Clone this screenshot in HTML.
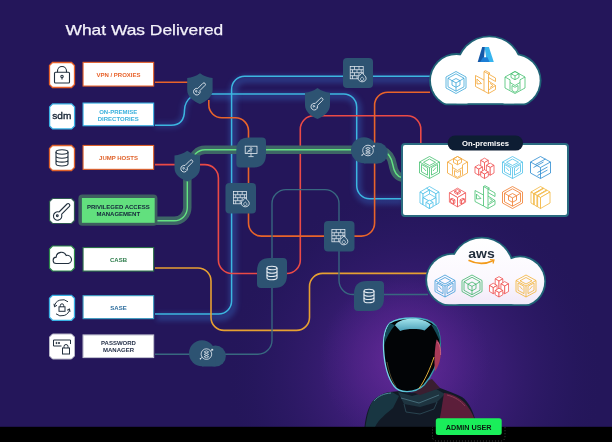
<!DOCTYPE html>
<html><head><meta charset="utf-8">
<style>
html,body{margin:0;padding:0;width:612px;height:442px;overflow:hidden;background:#24165a;}
svg{display:block;position:absolute;left:0;top:0;}
text{font-family:"Liberation Sans",sans-serif;}
svg{will-change:transform;}
</style></head><body>
<svg width="612" height="442" viewBox="0 0 612 442">
<defs>
  <radialGradient id="glow" cx="415" cy="375" r="190" gradientUnits="userSpaceOnUse">
    <stop offset="0" stop-color="#4e238a" stop-opacity="1"/>
    <stop offset="0.45" stop-color="#3d1e78" stop-opacity="0.8"/>
    <stop offset="0.8" stop-color="#2c1966" stop-opacity="0.4"/>
    <stop offset="1" stop-color="#24165a" stop-opacity="0"/>
  </radialGradient>
  <radialGradient id="glow2" cx="405" cy="360" r="85" gradientUnits="userSpaceOnUse">
    <stop offset="0" stop-color="#6a2c9c" stop-opacity="0.9"/>
    <stop offset="0.6" stop-color="#5a2690" stop-opacity="0.45"/>
    <stop offset="1" stop-color="#4e238a" stop-opacity="0"/>
  </radialGradient>
  <linearGradient id="bodyg" x1="364" y1="0" x2="477" y2="0" gradientUnits="userSpaceOnUse">
    <stop offset="0" stop-color="#14303c"/>
    <stop offset="0.45" stop-color="#1a2c3a"/>
    <stop offset="0.7" stop-color="#4a1e36"/>
    <stop offset="1" stop-color="#6e2444"/>
  </linearGradient>
  <linearGradient id="rimg" x1="383" y1="0" x2="441" y2="0" gradientUnits="userSpaceOnUse">
    <stop offset="0" stop-color="#7adcec"/>
    <stop offset="0.6" stop-color="#4ab8cc"/>
    <stop offset="1" stop-color="#2a8494"/>
  </linearGradient>
  <linearGradient id="capg" x1="0" y1="318" x2="0" y2="331" gradientUnits="userSpaceOnUse">
    <stop offset="0" stop-color="#a8e8f0"/>
    <stop offset="1" stop-color="#4aa0b8"/>
  </linearGradient>
  <filter id="bglow" x="-30%" y="-30%" width="160%" height="160%">
    <feGaussianBlur stdDeviation="2.5"/>
  </filter>
  <filter id="soft" x="-30%" y="-30%" width="160%" height="160%">
    <feGaussianBlur stdDeviation="0.6"/>
  </filter>
  <path id="octa" d="M3,0 H22 L25,3 V22 L22,25 H3 L0,22 V3 Z"/>
  <linearGradient id="cloudfill" x1="0" y1="238" x2="0" y2="306" gradientUnits="userSpaceOnUse">
    <stop offset="0" stop-color="#ffffff"/>
    <stop offset="0.6" stop-color="#fbf8fe"/>
    <stop offset="1" stop-color="#f1e8f8"/>
  </linearGradient>
  <!-- iso icons 22x24 -->
  <g id="isoA" fill="none" stroke-width="0.8">
    <path d="M11,1 L21,6.5 V17.5 L11,23 L1,17.5 V6.5 Z"/>
    <path d="M11,3.3 L19,7.7 V16.3 L11,20.7 L3,16.3 V7.7 Z"/>
    <path d="M11,8 L15,10.2 V14.6 L11,16.8 L7,14.6 V10.2 Z M7,10.2 L11,12.4 L15,10.2 M11,12.4 V16.8"/>
    <path d="M3,7.7 L7,10.2 M19,7.7 L15,10.2 M11,20.7 V16.8"/>
  </g>
  <g id="isoE" fill="none" stroke-width="0.8">
    <path d="M11,1 L21,6.5 V17.5 L11,23 L1,17.5 V6.5 Z"/>
    <path d="M1,6.5 L11,12 L21,6.5 M11,12 V23"/>
    <path d="M11,3.5 L17,6.8 L11,10 L5,6.8 Z"/>
    <path d="M3,9 V16.3 L9,19.6 V12.3 Z M19,9 V16.3 L13,19.6 V12.3 Z"/>
    <path d="M4.5,12 L7.5,15.5 M17.5,12 L14.5,15.5"/>
  </g>
  <g id="isoB" fill="none" stroke-width="0.8" stroke-linejoin="round">
    <path d="M10,1 L14.5,3.5 V23 L10,20.5 Z M10,1 L11.5,0.2 L16,2.7 L14.5,3.5"/>
    <path d="M14.5,3.5 L21.5,7.5 V11 L14.5,7"/>
    <path d="M14.5,10.5 L21.5,15 L14.5,19.5 M16,12.8 L19,15 L16,17"/>
    <path d="M10,9.5 L1.5,5 V16 L10,20.5 M3,8.5 L7.5,13 L3,13.5 Z"/>
    <path d="M14.5,23 L21.5,19 V15"/>
  </g>
  <g id="isoC" fill="none" stroke-width="0.8">
    <path d="M11,1 L21,6.5 V17.5 L11,23 L1,17.5 V6.5 Z"/>
    <path d="M11,1 L15,3.2 V7 L11,9.2 L7,7 V3.2 Z M7,3.2 L11,5.4 L15,3.2 M11,5.4 V9.2"/>
    <path d="M1,6.5 L6,9.3 V19.3 M21,6.5 L16,9.3 V19.3 M6,12 L11,15 L16,12"/>
    <path d="M8,15 L11,16.8 L14,15 V20 L11,21.8 L8,20 Z"/>
  </g>
  <g id="isoD" fill="#fff" stroke-width="0.75" stroke-linejoin="round"><polygon points="11.00,2.65 14.81,4.85 11.00,7.05 7.19,4.85"/><polygon points="7.19,4.85 11.00,7.05 11.00,18.60 7.19,16.40"/><polygon points="14.81,4.85 11.00,7.05 11.00,18.60 14.81,16.40"/><polygon points="5.28,9.25 9.09,11.45 5.28,13.65 1.47,11.45"/><polygon points="1.47,11.45 5.28,13.65 5.28,19.70 1.47,17.50"/><polygon points="9.09,11.45 5.28,13.65 5.28,19.70 9.09,17.50"/><polygon points="16.72,7.60 20.53,9.80 16.72,12.00 12.91,9.80"/><polygon points="12.91,9.80 16.72,12.00 16.72,19.70 12.91,17.50"/><polygon points="20.53,9.80 16.72,12.00 16.72,19.70 20.53,17.50"/><polygon points="11.00,14.20 14.81,16.40 11.00,18.60 7.19,16.40"/><polygon points="7.19,16.40 11.00,18.60 11.00,23.00 7.19,20.80"/><polygon points="14.81,16.40 11.00,18.60 11.00,23.00 14.81,20.80"/></g>
  <g id="isoF" fill="none" stroke-width="0.8">
    <path d="M11,1 L21,6.5 V17.5 L11,23 L1,17.5 V6.5 Z"/>
    <path d="M1,6.5 L11,12 L21,6.5 M11,12 V23"/>
    <path d="M6,9 L16,3.5 M4,12 L14,6.5 M8,17 L18,11.5 M8,20 L18,14.5"/>
  </g>
  <g id="isoG" fill="#fff" stroke-width="0.75" stroke-linejoin="round"><polygon points="11.00,1.00 20.53,6.50 17.43,8.29 7.90,2.79"/><polygon points="7.90,2.79 17.43,8.29 17.43,19.29 7.90,13.79"/><polygon points="20.53,6.50 17.43,8.29 17.43,19.29 20.53,17.50"/><polygon points="7.90,2.79 11.00,4.57 4.57,8.29 1.47,6.50"/><polygon points="1.47,6.50 4.57,8.29 4.57,19.29 1.47,17.50"/><polygon points="11.00,4.57 4.57,8.29 4.57,19.29 11.00,15.57"/><polygon points="11.00,8.43 17.43,12.14 11.00,15.85 4.57,12.14"/><polygon points="4.57,12.14 11.00,15.85 11.00,23.00 4.57,19.29"/><polygon points="17.43,12.14 11.00,15.85 11.00,23.00 17.43,19.29"/><polygon points="11.00,14.75 14.57,16.81 11.00,18.88 7.43,16.81"/><polygon points="7.43,16.81 11.00,18.88 11.00,23.00 7.43,20.94"/><polygon points="14.57,16.81 11.00,18.88 11.00,23.00 14.57,20.94"/></g>
  <g id="isoH" fill="#fff" stroke-width="0.75" stroke-linejoin="round"><polygon points="11.00,2.65 19.10,7.33 11.00,12.00 2.90,7.33"/><polygon points="2.90,7.33 11.00,12.00 11.00,21.35 2.90,16.68"/><polygon points="19.10,7.33 11.00,12.00 11.00,21.35 19.10,16.68"/><polygon points="11.00,4.03 13.86,5.68 11.00,7.32 8.14,5.68"/><polygon points="8.14,5.68 11.00,7.32 11.00,8.97 8.14,7.33"/><polygon points="13.86,5.68 11.00,7.32 11.00,8.97 13.86,7.33"/><polygon points="5.52,12.69 8.38,14.34 6.95,15.16 4.09,13.51"/><polygon points="4.09,13.51 6.95,15.16 6.95,18.46 4.09,16.81"/><polygon points="8.38,14.34 6.95,15.16 6.95,18.46 8.38,17.64"/><polygon points="16.48,12.69 17.91,13.51 15.05,15.16 13.62,14.34"/><polygon points="13.62,14.34 15.05,15.16 15.05,18.46 13.62,17.64"/><polygon points="17.91,13.51 15.05,15.16 15.05,18.46 17.91,16.81"/></g>
  <g id="isoJ" fill="#fff" stroke-width="0.75" stroke-linejoin="round"><polygon points="11.00,1.00 13.86,2.65 4.33,8.15 1.47,6.50"/><polygon points="1.47,6.50 4.33,8.15 4.33,19.15 1.47,17.50"/><polygon points="13.86,2.65 4.33,8.15 4.33,19.15 13.86,13.65"/><polygon points="14.33,2.93 17.19,4.57 7.67,10.07 4.81,8.43"/><polygon points="4.81,8.43 7.67,10.07 7.67,21.07 4.81,19.43"/><polygon points="17.19,4.57 7.67,10.07 7.67,21.07 17.19,15.57"/><polygon points="17.67,4.85 20.53,6.50 11.00,12.00 8.14,10.35"/><polygon points="8.14,10.35 11.00,12.00 11.00,23.00 8.14,21.35"/><polygon points="20.53,6.50 11.00,12.00 11.00,23.00 20.53,17.50"/></g>
  <!-- node icons (white) -->
  <g id="nKey" fill="none" stroke="#e8eef4" stroke-width="0.95" transform="translate(-0.8,-1.8) scale(0.92)">
    <path d="M-1.6,1.4 L4,-4.2 a1.6,1.6 0 0 1 2.3,2.3 L0.8,3.6"/>
    <path d="M-1.6,1.4 a3.6,3.6 0 1 0 2.4,2.2"/>
    <path d="M-3.2,3.6 a0.8,0.8 0 1 0 0.1,0 M-1,5.4 L-0.2,6.2"/>
  </g>
  <g id="nWall" fill="none" stroke="#e8eef4" stroke-width="0.75">
    <rect x="-6.8" y="-7" width="13" height="12.2"/>
    <path d="M-6.8,-3.9 H6.2 M-6.8,-0.9 H6.2 M-6.8,2.1 H2 M-2.5,-7 V-3.9 M2,-7 V-3.9 M-4.5,-3.9 V-0.9 M0,-3.9 V-0.9 M4.2,-3.9 V-0.9 M-2.5,-0.9 V2.1 M2,-0.9 V2.1 M-4.5,2.1 V5.2 M0,2.1 V5.2"/>
    <path d="M5.1,8.2 C2.8,8.2 1.1,6.6 1.1,4.5 C1.1,2.3 3.8,1.3 5.4,-0.8 C6.6,1.6 9.1,2.5 9.1,4.8 C9.1,6.8 7.4,8.2 5.1,8.2 Z" fill="#2d5372" stroke-width="0.85"/>
    <path d="M5.1,7 c-1,0 -1.6,-0.7 -1.6,-1.5 c0,-0.9 0.8,-1.5 1.6,-2.2 c0.8,0.7 1.6,1.3 1.6,2.2 c0,0.8 -0.6,1.5 -1.6,1.5 z" stroke-width="0.7"/>
  </g>
  <g id="nMon" fill="none" stroke="#e8eef4" stroke-width="0.8">
    <rect x="-5.8" y="-5.8" width="11.8" height="7.3"/>
    <path d="M0,1.5 V4 M-2.6,4.6 H2.6"/>
    <circle cx="0" cy="-3.2" r="1.1"/>
    <path d="M0,-2.1 V0.5 M-4.5,0.8 L-1.5,-1.5 M-1.5,-1.5 l-1.2,0.1 M-1.5,-1.5 l-0.1,1.1"/>
  </g>
  <g id="nDb" fill="none" stroke="#e8eef4" stroke-width="1.1">
    <ellipse cx="0" cy="-5" rx="5" ry="1.8"/>
    <path d="M-5,-5 V5 a5,1.8 0 0 0 10,0 V-5"/>
    <path d="M-5,-1.6 a5,1.8 0 0 0 10,0 M-5,1.7 a5,1.8 0 0 0 10,0"/>
  </g>
  <g id="nGlobe" fill="none" stroke="#e8eef4" stroke-width="0.8">
    <circle cx="0" cy="0" r="5.3"/>
    <path d="M-2.3,-2.2 L0,-3.3 L2.3,-2.2 L0,-1.1 Z M-2.3,0.3 L0,-0.8 L2.3,0.3 L0,1.4 Z M-2.3,2.6 L0,1.5 L2.3,2.6 L0,3.7 Z" stroke-width="0.7"/>
    <path d="M-6.2,4.8 L-4,3 M4,-3 L6.4,-4.8 M6.4,-4.8 l-1.6,0.1 M6.4,-4.8 l-0.2,1.5"/>
    <circle cx="-6" cy="4.6" r="0.7" fill="#e8eef4" stroke="none"/>
  </g>
</defs>
<rect x="0" y="0" width="612" height="442" fill="#24165a"/>
<rect x="0" y="0" width="612" height="442" fill="url(#glow)"/>
<rect x="0" y="0" width="612" height="442" fill="url(#glow2)"/>

<!-- title -->
<text x="65.5" y="34.7" font-size="14.4" fill="#f4f2fa" stroke="#f4f2fa" stroke-width="0.25" textLength="157.8" lengthAdjust="spacingAndGlyphs">What Was Delivered</text>

<!-- ===== LINES ===== -->
<g fill="none" stroke-linecap="butt" stroke-linejoin="round">
  <path d="M155,314 L218.60,314.00 A13.00,13.00 0 0 0 231.60,301.00 L231.60,89.20 A13.00,13.00 0 0 1 244.60,76.20 L430,76.2" stroke="#3470c8" stroke-width="8" opacity="0.36" filter="url(#bglow)" transform="translate(1.5,3)"/>
  <path d="M210,94 L343.70,94.00 A13.00,13.00 0 0 1 356.70,107.00 L356.70,185.80 A13.00,13.00 0 0 0 369.70,198.80 L402,198.8" stroke="#3470c8" stroke-width="8" opacity="0.35" filter="url(#bglow)" transform="translate(1,2)"/>
  <path d="M155,314 L218.60,314.00 A13.00,13.00 0 0 0 231.60,301.00 L231.60,89.20 A13.00,13.00 0 0 1 244.60,76.20 L430,76.2" stroke="#3cb6e0" stroke-width="1.5"/>
  <path d="M155,125.2 H171 C180,125.2 184.5,120 184.5,110 C184.5,104 187,100 192,96" stroke="#3470c8" stroke-width="6" opacity="0.3" filter="url(#bglow)"/>
  <path d="M155,125.2 H171 C180,125.2 184.5,120 184.5,110 C184.5,104 187,100 192,96" stroke="#3cb6e0" stroke-width="1.5"/>
  <path d="M210,94 L343.70,94.00 A13.00,13.00 0 0 1 356.70,107.00 L356.70,185.80 A13.00,13.00 0 0 0 369.70,198.80 L402,198.8" stroke="#3cb6e0" stroke-width="1.5"/>
  <path d="M155,82.3 H190" stroke="#e8642a" stroke-width="1.6"/>
  <path d="M155,164.6 L204.90,164.60 A13.50,13.50 0 0 1 218.40,178.10 L218.40,260.00 A13.50,13.50 0 0 0 231.90,273.50 L286.80,273.50 A13.50,13.50 0 0 0 300.30,260.00 L300.30,129.30 A13.50,13.50 0 0 1 313.80,115.80 L407.30,115.80 A13.50,13.50 0 0 1 420.80,129.30 L420.8,145" stroke="#ea4a46" stroke-width="1.6"/>
  <path d="M208.8,100 L208.80,104.80 A13.00,13.00 0 0 0 221.80,117.80 L235.50,117.80 A13.00,13.00 0 0 1 248.50,130.80 L248.50,223.10 A13.00,13.00 0 0 0 261.50,236.10 L361.60,236.10 A13.00,13.00 0 0 0 374.60,223.10 L374.60,105.20 A13.00,13.00 0 0 1 387.60,92.20 L430,92.2" stroke="#e8642a" stroke-width="1.6"/>
  <path d="M155,220.8 L174.30,220.80 A13.00,13.00 0 0 0 187.30,207.80 L187.3,175 M192,170 L192.00,162.80 A13.00,13.00 0 0 1 205.00,149.80 L352,149.8 M382,150 C389,153 391.5,158 392.6,164 C393.8,171 396.5,177 402.5,177.8" stroke="#3d6666" stroke-width="8.4"/>
  <path d="M155,220.8 L174.30,220.80 A13.00,13.00 0 0 0 187.30,207.80 L187.3,175 M192,170 L192.00,162.80 A13.00,13.00 0 0 1 205.00,149.80 L352,149.8 M382,150 C389,153 391.5,158 392.6,164 C393.8,171 396.5,177 402.5,177.8" stroke="#64e282" stroke-width="1.4"/>
  <path d="M155,268 L198.00,268.00 A13.00,13.00 0 0 1 211.00,281.00 L211.00,317.40 A13.00,13.00 0 0 0 224.00,330.40 L296.50,330.40 A13.00,13.00 0 0 0 309.50,317.40 L309.50,286.40 A13.00,13.00 0 0 1 322.50,273.40 L428,273.4" stroke="#e6a032" stroke-width="1.6"/>
  <path d="M155,354.2 L258.00,354.20 A14.00,14.00 0 0 0 272.00,340.20 L272.00,203.60 A14.00,14.00 0 0 1 286.00,189.60 L325.00,189.60 A14.00,14.00 0 0 1 339.00,203.60 L339.00,280.50 A14.00,14.00 0 0 0 353.00,294.50 L428,294.5" stroke="#386880" stroke-width="1.35"/>
</g>

<!-- ===== LEFT COLUMN ===== -->
<g>
  <!-- VPN -->
  <g transform="translate(49.5,62.5)"><use href="#octa" fill="#fff" stroke="#e8622a" stroke-width="1.3"/>
    <g fill="none" stroke="#22303e" stroke-width="1.1"><path d="M8,9.7 V8.5 a4.5,4.5 0 0 1 9,0 V9.7"/><rect x="5" y="9.7" width="15" height="10.8" rx="1"/><circle cx="12.5" cy="14" r="1.2"/><path d="M12.5,15 V17"/></g></g>
  <rect x="83.05" y="62.35" width="70.60" height="23.70" fill="#fff" stroke="#e8622a" stroke-width="1.1"/>
  <text x="118.5" y="77" font-size="6" font-weight="bold" fill="#e8622a" text-anchor="middle">VPN / PROXIES</text>
  <!-- SDM -->
  <g transform="translate(49.6,103.9)"><use href="#octa" fill="#fff" stroke="#3ab2e4" stroke-width="1.3"/>
    <text x="12.2" y="14.8" font-size="9.6" fill="#162434" stroke="#162434" stroke-width="0.35" text-anchor="middle" textLength="19" lengthAdjust="spacingAndGlyphs">sdm</text></g>
  <rect x="83.05" y="103.05" width="70.60" height="22.70" fill="#fff" stroke="#3ab2e4" stroke-width="1.1"/>
  <text x="118.2" y="113.7" font-size="6" font-weight="bold" fill="#38b0dc" text-anchor="middle">ON-PREMISE</text>
  <text x="118.2" y="120.9" font-size="6" font-weight="bold" fill="#38b0dc" text-anchor="middle">DIRECTORIES</text>
  <!-- JUMP -->
  <g transform="translate(49.5,145.5)"><use href="#octa" fill="#fff" stroke="#e0622a" stroke-width="1.3"/>
    <g fill="none" stroke="#22303e" stroke-width="1.1"><ellipse cx="12.5" cy="6.5" rx="6" ry="2.2"/><path d="M6.5,6.5 V18.3 a6,2.2 0 0 0 12,0 V6.5 M6.5,10.5 a6,2.2 0 0 0 12,0 M6.5,14.4 a6,2.2 0 0 0 12,0"/></g></g>
  <rect x="83.05" y="145.45" width="70.60" height="23.90" fill="#fff" stroke="#e0622a" stroke-width="1.1"/>
  <text x="118.5" y="160" font-size="6" font-weight="bold" fill="#e0622a" text-anchor="middle">JUMP HOSTS</text>
  <!-- PAM -->
  <g transform="translate(49.5,198.5)"><use href="#octa" fill="#fff" stroke="#2f5a50" stroke-width="1.2"/>
    <g fill="none" stroke="#22303e" stroke-width="1.1"><path d="M9.5,13.5 L17.5,5.5 a1.7,1.7 0 0 1 2.4,2.4 L12,15.8"/><path d="M9.5,13.5 a4.2,4.2 0 1 0 2.5,2.3"/><circle cx="7.8" cy="17.3" r="0.9"/></g></g>
  <rect x="78.4" y="194.5" width="79" height="31.3" rx="4" fill="#3d5f5f"/>
  <rect x="81.9" y="198" width="72.8" height="24.8" fill="#62e07e"/>
  <text x="118.3" y="208.9" font-size="6" font-weight="bold" fill="#13243a" text-anchor="middle">PRIVILEGED ACCESS</text>
  <text x="118.3" y="216" font-size="6" font-weight="bold" fill="#13243a" text-anchor="middle">MANAGEMENT</text>
  <!-- CASB -->
  <g transform="translate(49.5,246)"><use href="#octa" fill="#fff" stroke="#2c8a4a" stroke-width="1.2"/>
    <path d="M7,17.5 a3.2,3.2 0 0 1 -0.3,-6.4 a5.2,5.2 0 0 1 10,-1.6 a4,4 0 0 1 2.2,8 Z" fill="none" stroke="#22303e" stroke-width="1.1"/></g>
  <rect x="83.05" y="247.55" width="70.60" height="23.50" fill="#fff" stroke="#2a7048" stroke-width="1.1"/>
  <text x="118.5" y="262" font-size="6" font-weight="bold" fill="#2a7a48" text-anchor="middle">CASB</text>
  <!-- SASE -->
  <g transform="translate(49.5,295.3)"><use href="#octa" fill="#fff" stroke="#3ab2e4" stroke-width="1.3"/>
    <g fill="none" stroke="#22303e" stroke-width="1"><path d="M5,11 a8,7.5 0 0 1 13.5,-4.5 M20,14 a8,7.5 0 0 1 -13.5,4.5"/><path d="M4.5,8.5 L5,11.5 L7.5,10 M20.5,16.5 L20,13.5 L17.5,15"/><rect x="9.5" y="11.5" width="6" height="4.5"/><path d="M10.8,11.5 V10.2 a1.7,1.7 0 0 1 3.4,0 V11.5"/></g></g>
  <rect x="83.05" y="295.65" width="70.60" height="23.00" fill="#fff" stroke="#3a9cc0" stroke-width="1.1"/>
  <text x="118.5" y="310" font-size="6" font-weight="bold" fill="#2c6c9c" text-anchor="middle">SASE</text>
  <!-- PASSWORD -->
  <g transform="translate(49.5,334)"><use href="#octa" fill="#fff" stroke="#b8b8c8" stroke-width="1"/>
    <g fill="none" stroke="#22303e" stroke-width="1"><path d="M12,12 H4 V6 H21 V10"/><circle cx="7" cy="9" r="0.6" fill="#22303e"/><circle cx="9.5" cy="9" r="0.6" fill="#22303e"/><rect x="13" y="14" width="7" height="6"/><path d="M14.5,14 V12.5 a2,2 0 0 1 4,0 V14"/></g></g>
  <rect x="83.05" y="334.95" width="70.60" height="22.60" fill="#fff" stroke="#c0c0d0" stroke-width="1.1"/>
  <text x="118.5" y="345" font-size="6" font-weight="bold" fill="#1e2a44" text-anchor="middle">PASSWORD</text>
  <text x="118.5" y="352.2" font-size="6" font-weight="bold" fill="#1e2a44" text-anchor="middle">MANAGER</text>
</g>

<!-- ===== NODES ===== -->
<g fill="#2d5372">
  <path d="M200,73.2 Q206,77.5 212.6,78 V90 C212.6,97 206,101.5 200,104 C194,101.5 187.2,97 187.2,90 V78 Q194,77.5 200,73.2 Z"/>
  <path d="M317.5,88 Q323.5,92.3 330,92.8 V105 C330,112 323.5,116.5 317.5,119 C311.5,116.5 305,112 305,105 V92.8 Q311.5,92.3 317.5,88 Z"/>
  <path d="M187.3,150.8 Q193.5,155.1 200,155.6 V168 C200,175 193.5,179 187.3,181.5 C181,179 174.5,175 174.5,168 V155.6 Q181,155.1 187.3,150.8 Z"/>
  <rect x="343" y="58" width="30" height="30" rx="4"/>
  <rect x="225.5" y="183" width="30.5" height="30.5" rx="4"/>
  <rect x="324" y="221" width="30.5" height="30.5" rx="4"/>
  <path d="M249.3,137.5 H262 Q266,137.5 266,141.5 V154.5 Q266,167.5 253,167.5 H240 Q236.3,167.5 236.3,163.5 V150.5 Q236.3,137.5 249.3,137.5 Z"/>
  <path d="M270,258 H283 Q287,258 287,262 V275 Q287,288 274,288 H261 Q257,288 257,284 V271 Q257,258 270,258 Z"/>
  <path d="M367,281 H380 Q384,281 384,285 V298 Q384,311 371,311 H358 Q354,311 354,307 V294 Q354,281 367,281 Z"/>
  <circle cx="364" cy="150.3" r="13"/><circle cx="377.4" cy="153" r="10.5"/><rect x="364" y="150.3" width="13.4" height="13.2"/>
  <circle cx="202" cy="353.3" r="13"/><circle cx="215.4" cy="356" r="10.5"/><rect x="202" y="353.3" width="13.4" height="13.2"/>
</g>
<g>
  <use href="#nKey" transform="translate(200,89)"/>
  <use href="#nKey" transform="translate(317.5,104)"/>
  <use href="#nKey" transform="translate(187.3,166)"/>
  <use href="#nWall" transform="translate(357,73.6)"/>
  <use href="#nWall" transform="translate(240.2,198.6)"/>
  <use href="#nWall" transform="translate(338.7,236.6)"/>
  <use href="#nMon" transform="translate(251,152)"/>
  <use href="#nDb" transform="translate(272,273)"/>
  <use href="#nDb" transform="translate(369,296)"/>
  <use href="#nGlobe" transform="translate(368,150.5)"/>
  <use href="#nGlobe" transform="translate(206.4,354.1)"/>
</g>

<!-- ===== CLOUDS ===== -->
<clipPath id="czo"><rect x="0" y="0" width="612" height="105.2"/></clipPath>
<clipPath id="czi"><rect x="0" y="0" width="612" height="103.4"/></clipPath>
<g clip-path="url(#czo)" fill="#1f6276"><circle cx="456.5" cy="80.5" r="27.4"/><circle cx="514.3" cy="80.5" r="27.2"/><circle cx="489.3" cy="69" r="33.6"/><rect x="456.5" y="80.5" width="57.799999999999955" height="24.700000000000003"/></g>
<g clip-path="url(#czi)" fill="#fff"><circle cx="456.5" cy="80.5" r="25.599999999999998"/><circle cx="514.3" cy="80.5" r="25.4"/><circle cx="489.3" cy="69" r="31.8"/><rect x="456.5" y="80.5" width="57.799999999999955" height="22.900000000000006"/></g>
<clipPath id="cwo"><rect x="0" y="0" width="612" height="306"/></clipPath>
<clipPath id="cwi"><rect x="0" y="0" width="612" height="304.2"/></clipPath>
<g clip-path="url(#cwo)" fill="#1f6276"><circle cx="452.3" cy="280" r="27"/><circle cx="520.1" cy="281.5" r="26"/><circle cx="481.8" cy="269.3" r="32.6"/><rect x="452.3" y="280" width="67.80000000000001" height="26"/></g>
<g clip-path="url(#cwi)" fill="url(#cloudfill)"><circle cx="452.3" cy="280" r="25.2"/><circle cx="520.1" cy="281.5" r="24.2"/><circle cx="481.8" cy="269.3" r="30.8"/><rect x="452.3" y="280" width="67.80000000000001" height="24.19999999999999"/></g>
<!-- azure logo -->
<g>
  <path d="M482.2,46.9 L485,46.9 L483.6,61.9 L477.7,61.9 Z" fill="#1458a8"/>
  <path d="M484.6,46.9 L488.9,46.9 L493.8,61.9 L486.8,61.9 Z" fill="#36b4ee"/>
  <path d="M483,57.2 L487.4,57.2 L489.6,61.9 L480.2,61.9 Z" fill="#1c7ed6"/>
</g>
<g stroke="#3aa6d8"><use href="#isoA" transform="translate(445,70.5)"/></g>
<g stroke="#f2a533"><use href="#isoB" transform="translate(474,70.5)"/></g>
<g stroke="#45c070"><use href="#isoC" transform="translate(504,70.5)"/></g>
<!-- aws -->
<text x="481.5" y="258" font-size="13.5" font-weight="bold" fill="#232f3e" text-anchor="middle" textLength="26.5" lengthAdjust="spacingAndGlyphs">aws</text>
<path d="M468.5,260.2 Q481,266.5 493.5,260.5" fill="none" stroke="#f29a1a" stroke-width="1.6"/>
<path d="M490,259.5 L494,260 L493,263.5" fill="none" stroke="#f29a1a" stroke-width="1.2"/>
<g stroke="#3a9ad8"><use href="#isoE" transform="translate(434,274)"/></g>
<g stroke="#3fb56a"><use href="#isoA" transform="translate(461,274)"/></g>
<g stroke="#ef4a4a"><use href="#isoD" transform="translate(488,274)"/></g>
<g stroke="#f2b233"><use href="#isoE" transform="translate(515,274)"/></g>

<!-- on-prem box -->
<rect x="402" y="144" width="166" height="72" rx="3" fill="#fff" stroke="#2a6b80" stroke-width="2"/>
<rect x="447.6" y="135.6" width="75.5" height="15" rx="7.5" fill="#0d1d33"/>
<text x="485.5" y="146.2" font-size="7.6" font-weight="bold" fill="#fff" text-anchor="middle" textLength="47" lengthAdjust="spacingAndGlyphs">On-premises</text>
<g stroke="#45c070"><use href="#isoE" transform="translate(418.5,155.5)"/></g>
<g stroke="#f2a533"><use href="#isoC" transform="translate(446.5,155.5)"/></g>
<g stroke="#ef4a4a"><use href="#isoD" transform="translate(473.5,155.5)"/></g>
<g stroke="#4cc0e8"><use href="#isoE" transform="translate(501.5,155.5)"/></g>
<g stroke="#2a8ad0"><use href="#isoF" transform="translate(529.5,155.5)"/></g>
<g stroke="#4cc0e8"><use href="#isoG" transform="translate(418.5,185.5)"/></g>
<g stroke="#ef4a4a"><use href="#isoH" transform="translate(446.5,185.5)"/></g>
<g stroke="#45c070"><use href="#isoB" transform="translate(473.5,185.5)"/></g>
<g stroke="#f07a2a"><use href="#isoA" transform="translate(501.5,185.5)"/></g>
<g stroke="#f2b233"><use href="#isoJ" transform="translate(529.5,185.5)"/></g>

<!-- ===== ASTRONAUT ===== -->
<g>
  <path d="M364.5,427 C366,414 369,405 374,400 C378,396 383,393 390,392 L400,391 C410,394 425,392 440,388 C448,391 456,394 462,397 C469,402 474,412 477,427 Z" fill="#121a26"/>
  <path d="M372,402 C377,396 384,393 392,392 L399,396 L393,408 C387,413 379,419 375,427 H365.5 C367,416 369,408 372,402 Z" fill="#183642"/>
  <path d="M374,401 C378,396 384,393.5 391,393" fill="none" stroke="#4a8a9a" stroke-width="1"/>
  <path d="M398,392 L412,396 L436,389 L445,394 L437,402 L420,407 L404,404 Z" fill="#1e3440"/>
  <path d="M401,398 L419,403 L439,395" fill="none" stroke="#4f7a88" stroke-width="0.8"/>
  <path d="M404,404 L406,412 L420,414 L434,409 L437,402" fill="none" stroke="#2f4e5a" stroke-width="0.8"/>
  <path d="M444,393 C453,394 460,398 465,403 C471,410 475,418 476.5,427 H438 L441,412 Z" fill="#5c1e3a"/>
  <path d="M447,395 C455,397 461,401 465,406" fill="none" stroke="#8a3a56" stroke-width="1"/>
  <path d="M405,389 L432,379 L440,388 L420,395 Z" fill="#3a1e30"/>
  <!-- helmet -->
  <path d="M412.8,318 C424,318 432,321 436,326 C440,332 441,341 440,350 C438.5,362 432,376 424,385 C420,389 414,391.6 407,391.6 C401,391.6 397,390 394,386 C388,378 384.5,365 383.6,350 C383,338 385,328 390,323 C395,319.5 404,318 412.8,318 Z" fill="#020406" stroke="url(#rimg)" stroke-width="1.3"/>
  <path d="M394.9,325.2 C398,321 405,318.6 412.8,318.6 C420,318.6 427,321 431,324.6 L424.6,330.5 C418,328.5 407,328.5 400.2,331 Z" fill="url(#capg)"/>
  <path d="M390,323 C386,328 384.3,336 384.2,345 C386,338 390,331 394.9,325.2 Z" fill="#134a58"/>
  <path d="M431,324.6 L436,326 C439,331 440.3,337 440.2,343 C438,336 434,329 431,324.6 Z" fill="#134a58"/>
  <path d="M436.5,339.5 C439.2,341.5 440.8,346 440.8,352.5 C440.8,359 439,365.5 435,371.5 C434,362 434.5,349 436.5,339.5 Z" fill="#a83a58"/>
  <path d="M437.5,342 C440,345 440.8,350 440.6,355" fill="none" stroke="#e07088" stroke-width="0.7"/>
  <path d="M434,357 C430.5,368 424.5,381 419,388.5" fill="none" stroke="#f5c040" stroke-width="0.9"/>
  <path d="M387,362 C389,373 392,381 396,386.5" fill="none" stroke="#d8c070" stroke-width="0.6" opacity="0.6"/>
</g>

<!-- black strip -->
<rect x="0" y="426.8" width="612" height="16" fill="#000"/>

<!-- admin pill -->
<clipPath id="stripclip"><rect x="0" y="427" width="612" height="15"/></clipPath><rect x="432.5" y="416" width="72.5" height="25" rx="4" fill="none" stroke="#ffffff" stroke-width="0.6" stroke-dasharray="0.8 2.2" opacity="0.55" clip-path="url(#stripclip)"/>
<rect x="435.8" y="418.3" width="65.9" height="16.6" rx="2.5" fill="#1aee5a"/>
<text x="468.7" y="429.7" font-size="7.4" font-weight="bold" fill="#0a1a10" text-anchor="middle" textLength="45.8" lengthAdjust="spacingAndGlyphs">ADMIN USER</text>
</svg>
</body></html>
